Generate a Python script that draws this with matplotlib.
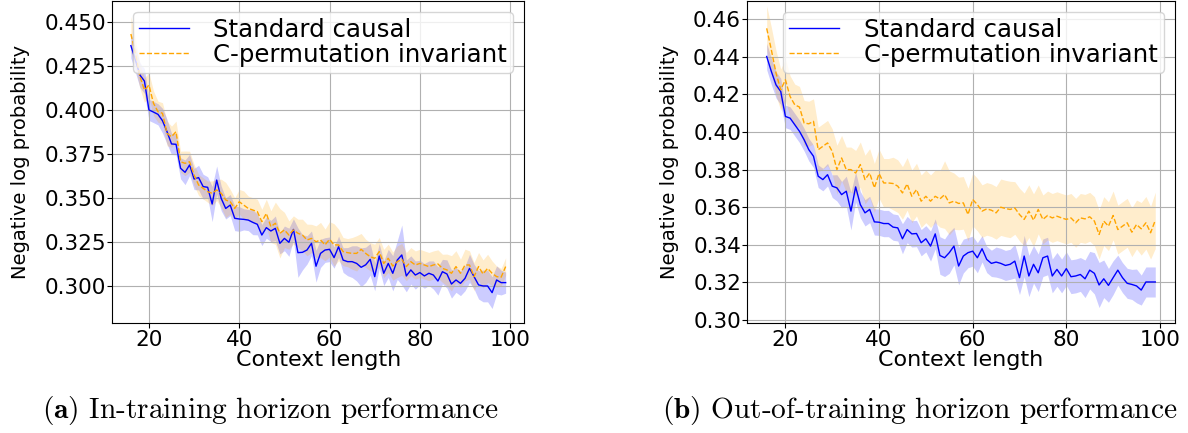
import numpy as np
import matplotlib
matplotlib.use('Agg')
import matplotlib.pyplot as plt

plt.rcParams['mathtext.fontset'] = 'cm'

ctx = list(range(16, 100))

# (a) in-training horizon
a_causal = [0.4364, 0.4282, 0.4197, 0.4163, 0.3999, 0.3987, 0.3974, 0.3938, 0.3876, 0.3806,
            0.3804, 0.3668, 0.3645, 0.3687, 0.3607, 0.3615, 0.3564, 0.3560, 0.3465, 0.3601,
            0.3497, 0.3440, 0.3459, 0.3384, 0.3380, 0.3378, 0.3374, 0.3361, 0.3350, 0.3289,
            0.3331, 0.3312, 0.3327, 0.3242, 0.3270, 0.3248, 0.3321, 0.3189, 0.3191, 0.3204,
            0.3242, 0.3112, 0.3185, 0.3204, 0.3208, 0.3161, 0.3223, 0.3147, 0.3138, 0.3138,
            0.3128, 0.3106, 0.3120, 0.3151, 0.3053, 0.3170, 0.3072, 0.3128, 0.3072, 0.3147,
            0.3176, 0.3057, 0.3091, 0.3062, 0.3076, 0.3057, 0.3072, 0.3062, 0.3028, 0.3081,
            0.3068, 0.3011, 0.3034, 0.3015, 0.3043, 0.3100, 0.3053, 0.3006, 0.3000, 0.3000,
            0.2962, 0.3034, 0.3019, 0.3019]
a_causal_sd = [0.007, 0.007, 0.007, 0.007, 0.006, 0.006, 0.006, 0.007, 0.007, 0.006,
               0.006, 0.006, 0.007, 0.006, 0.006, 0.007, 0.007, 0.006, 0.010, 0.008,
               0.007, 0.006, 0.006, 0.007, 0.007, 0.006, 0.006, 0.007, 0.006, 0.006,
               0.006, 0.006, 0.007, 0.006, 0.007, 0.008, 0.006, 0.014, 0.010, 0.008,
               0.007, 0.009, 0.008, 0.007, 0.007, 0.006, 0.006, 0.007, 0.008, 0.009,
               0.010, 0.011, 0.010, 0.009, 0.008, 0.007, 0.007, 0.008, 0.010, 0.011,
               0.017, 0.009, 0.008, 0.008, 0.007, 0.007, 0.007, 0.008, 0.008, 0.007,
               0.008, 0.008, 0.007, 0.007, 0.007, 0.008, 0.007, 0.008, 0.009, 0.009,
               0.009, 0.008, 0.007, 0.006]
a_perm = [0.4430, 0.4320, 0.4190, 0.4112, 0.4140, 0.4037, 0.3989, 0.3980, 0.3866, 0.3847,
          0.3876, 0.3705, 0.3696, 0.3705, 0.3630, 0.3573, 0.3554, 0.3535, 0.3526, 0.3545,
          0.3526, 0.3488, 0.3478, 0.3440, 0.3478, 0.3459, 0.3440, 0.3431, 0.3422, 0.3365,
          0.3412, 0.3337, 0.3356, 0.3299, 0.3318, 0.3289, 0.3318, 0.3299, 0.3289, 0.3261,
          0.3270, 0.3251, 0.3261, 0.3233, 0.3265, 0.3233, 0.3233, 0.3195, 0.3189, 0.3185,
          0.3185, 0.3208, 0.3185, 0.3166, 0.3157, 0.3195, 0.3128, 0.3157, 0.3113, 0.3138,
          0.3151, 0.3110, 0.3138, 0.3119, 0.3128, 0.3119, 0.3110, 0.3119, 0.3125, 0.3100,
          0.3091, 0.3072, 0.3110, 0.3072, 0.3119, 0.3119, 0.3053, 0.3110, 0.3068, 0.3100,
          0.3072, 0.3053, 0.3050, 0.3110]
a_perm_sd = [0.010, 0.008, 0.007, 0.007, 0.007, 0.007, 0.006, 0.006, 0.007, 0.006,
             0.006, 0.006, 0.007, 0.006, 0.006, 0.006, 0.006, 0.006, 0.007, 0.006,
             0.008, 0.010, 0.007, 0.006, 0.007, 0.008, 0.007, 0.007, 0.007, 0.007,
             0.008, 0.009, 0.012, 0.014, 0.010, 0.008, 0.008, 0.008, 0.009, 0.009,
             0.008, 0.009, 0.010, 0.009, 0.010, 0.012, 0.009, 0.008, 0.008, 0.009,
             0.010, 0.009, 0.008, 0.008, 0.008, 0.008, 0.008, 0.008, 0.008, 0.009,
             0.009, 0.008, 0.008, 0.008, 0.008, 0.008, 0.008, 0.008, 0.008, 0.008,
             0.009, 0.010, 0.009, 0.008, 0.009, 0.008, 0.008, 0.008, 0.008, 0.008,
             0.007, 0.006, 0.005, 0.005]

# (b) out-of-training horizon
b_causal = [0.4402, 0.4322, 0.4251, 0.4216, 0.4083, 0.4074, 0.4039, 0.4004, 0.3959, 0.3906,
            0.3871, 0.3765, 0.3747, 0.3773, 0.3712, 0.3703, 0.3667, 0.3685, 0.3579, 0.3708,
            0.3614, 0.3570, 0.3588, 0.3522, 0.3520, 0.3513, 0.3513, 0.3494, 0.3490, 0.3432,
            0.3481, 0.3458, 0.3460, 0.3411, 0.3432, 0.3393, 0.3458, 0.3343, 0.3331, 0.3358,
            0.3393, 0.3287, 0.3340, 0.3358, 0.3366, 0.3331, 0.3379, 0.3322, 0.3301, 0.3308,
            0.3301, 0.3290, 0.3296, 0.3313, 0.3225, 0.3340, 0.3234, 0.3296, 0.3251, 0.3331,
            0.3340, 0.3234, 0.3269, 0.3234, 0.3273, 0.3230, 0.3234, 0.3242, 0.3219, 0.3265,
            0.3248, 0.3186, 0.3219, 0.3184, 0.3225, 0.3265, 0.3225, 0.3195, 0.3189, 0.3181,
            0.3159, 0.3202, 0.3202, 0.3202]
b_causal_sd = [0.007, 0.007, 0.007, 0.007, 0.006, 0.006, 0.006, 0.006, 0.006, 0.006,
               0.006, 0.006, 0.006, 0.006, 0.006, 0.007, 0.007, 0.008, 0.010, 0.008,
               0.007, 0.007, 0.007, 0.007, 0.007, 0.007, 0.007, 0.007, 0.007, 0.008,
               0.007, 0.007, 0.007, 0.007, 0.007, 0.008, 0.008, 0.010, 0.010, 0.011,
               0.010, 0.010, 0.009, 0.008, 0.008, 0.008, 0.007, 0.007, 0.007, 0.008,
               0.008, 0.008, 0.008, 0.009, 0.009, 0.011, 0.011, 0.010, 0.010, 0.010,
               0.010, 0.009, 0.009, 0.009, 0.009, 0.009, 0.009, 0.009, 0.010, 0.010,
               0.011, 0.012, 0.010, 0.009, 0.009, 0.008, 0.008, 0.008, 0.008, 0.009,
               0.008, 0.008, 0.008, 0.008]
b_perm = [0.4552, 0.4437, 0.4313, 0.4225, 0.4278, 0.4189, 0.4145, 0.4133, 0.4048, 0.4044,
          0.4057, 0.3906, 0.3924, 0.3942, 0.3897, 0.3800, 0.3862, 0.3800, 0.3800, 0.3782,
          0.3827, 0.3747, 0.3782, 0.3703, 0.3779, 0.3729, 0.3729, 0.3726, 0.3712, 0.3676,
          0.3724, 0.3658, 0.3694, 0.3632, 0.3658, 0.3632, 0.3658, 0.3644, 0.3667, 0.3623,
          0.3632, 0.3620, 0.3623, 0.3561, 0.3641, 0.3614, 0.3579, 0.3591, 0.3584, 0.3570,
          0.3600, 0.3593, 0.3588, 0.3596, 0.3561, 0.3535, 0.3579, 0.3531, 0.3588, 0.3535,
          0.3556, 0.3543, 0.3552, 0.3543, 0.3535, 0.3543, 0.3517, 0.3543, 0.3538, 0.3549,
          0.3526, 0.3455, 0.3526, 0.3499, 0.3556, 0.3481, 0.3499, 0.3517, 0.3467, 0.3508,
          0.3485, 0.3517, 0.3464, 0.3530]
b_perm_sd = [0.012, 0.012, 0.012, 0.011, 0.011, 0.011, 0.011, 0.011, 0.012, 0.012,
             0.012, 0.012, 0.012, 0.012, 0.012, 0.013, 0.012, 0.012, 0.012, 0.012,
             0.012, 0.013, 0.013, 0.013, 0.013, 0.013, 0.013, 0.014, 0.014, 0.014,
             0.014, 0.014, 0.014, 0.014, 0.014, 0.014, 0.014, 0.015, 0.018, 0.017,
             0.015, 0.014, 0.014, 0.014, 0.014, 0.014, 0.014, 0.014, 0.014, 0.014,
             0.015, 0.015, 0.015, 0.014, 0.014, 0.014, 0.014, 0.014, 0.013, 0.013,
             0.013, 0.013, 0.013, 0.013, 0.013, 0.013, 0.013, 0.013, 0.013, 0.013,
             0.013, 0.013, 0.013, 0.013, 0.013, 0.013, 0.013, 0.013, 0.013, 0.013,
             0.014, 0.014, 0.014, 0.015]

panels = [
    ([0.0944, 0.2533, 0.347, 0.7455], a_causal, a_causal_sd, a_perm, a_perm_sd,
     (0.2788, 0.462), [0.300, 0.325, 0.350, 0.375, 0.400, 0.425, 0.450], '%.3f'),
    ([0.629, 0.2533, 0.3598, 0.7455], b_causal, b_causal_sd, b_perm, b_perm_sd,
     (0.2982, 0.470), [0.30, 0.32, 0.34, 0.36, 0.38, 0.40, 0.42, 0.44, 0.46], '%.2f'),
]

fig = plt.figure(figsize=(11.88, 4.33), dpi=100)
x = np.array(ctx)

for pos, c_mean, c_sd, p_mean, p_sd, ylim, yticks, fmt in panels:
    ax = fig.add_axes(pos)
    c_mean, c_sd = np.array(c_mean), np.array(c_sd)
    p_mean, p_sd = np.array(p_mean), np.array(p_sd)
    ax.plot(x, c_mean, color='blue', lw=1, label='Standard causal')
    ax.fill_between(x, c_mean - c_sd, c_mean + c_sd, color='blue', alpha=0.2, lw=0)
    ax.plot(x, p_mean, color='orange', lw=1, ls='--', label='C-permutation invariant')
    ax.fill_between(x, p_mean - p_sd, p_mean + p_sd, color='orange', alpha=0.2, lw=0)
    ax.set_xlim(11.85, 103.15)
    ax.set_ylim(*ylim)
    ax.set_xticks([20, 40, 60, 80, 100])
    ax.set_yticks(yticks)
    ax.set_yticklabels([fmt % t for t in yticks])
    ax.tick_params(labelsize=15.5, pad=1)
    ax.grid(True)
    ax.set_xlabel('Context length', fontsize=16, labelpad=0)
    ax.set_ylabel('Negative log probability', fontsize=14, labelpad=10)
    ax.legend(loc='upper right', fontsize=17.6, labelspacing=0.05, borderpad=0.25,
              handlelength=2.05, handletextpad=1.0, borderaxespad=0.45)

fig.text(270 / 1188, 1 - 410 / 433, r'$\mathbf{(a)}$ In-training horizon performance',
         family='cmr10', fontsize=21.1, ha='center', va='center')
fig.text(920 / 1188, 1 - 410 / 433, r'$\mathbf{(b)}$ Out-of-training horizon performance',
         family='cmr10', fontsize=21.1, ha='center', va='center')

fig.savefig('out.png', dpi=100)
